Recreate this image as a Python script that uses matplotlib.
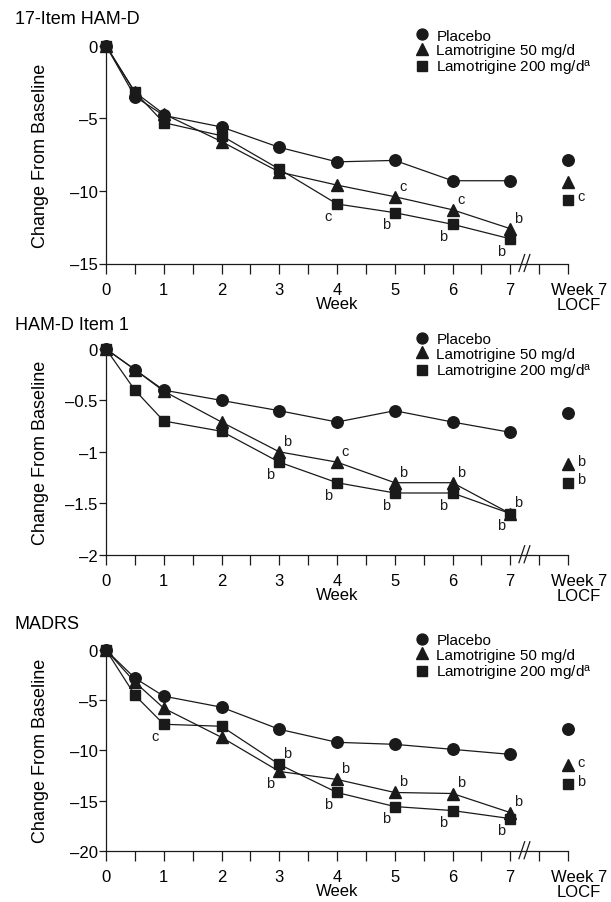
import matplotlib
matplotlib.use("Agg")
import matplotlib.pyplot as plt
import matplotlib.transforms as mtransforms
from matplotlib.lines import Line2D

plt.rcParams['font.family'] = ['Liberation Sans', 'DejaVu Sans']
plt.rcParams['mathtext.fontset'] = 'custom'
plt.rcParams['mathtext.rm'] = 'Liberation Sans'
plt.rcParams['mathtext.it'] = 'Liberation Sans'

# ---------------- data ----------------
weeks = [0, 0.5, 1, 2, 3, 4, 5, 6, 7]
locf_x = 8
xtick_pos = [0, 1, 2, 3, 4, 5, 6, 7, 8]
xtick_labels = ['0', '1', '2', '3', '4', '5', '6', '7', 'Week 7\nLOCF']
series_names = ['Placebo', 'Lamotrigine 50 mg/d', 'Lamotrigine 200 mg/d$^{\\mathrm{a}}$']

titles = ['17-Item HAM-D', 'HAM-D Item 1', 'MADRS']

# Panel 1: 17-Item HAM-D
placebo_1 = [0, -3.5, -4.8, -5.6, -7.0, -8.0, -7.9, -9.3, -9.3]
lam50_1 = [0, -3.2, -4.7, -6.6, -8.7, -9.6, -10.4, -11.3, -12.6]
lam200_1 = [0, -3.2, -5.3, -6.2, -8.5, -10.9, -11.5, -12.3, -13.3]
locf_1 = [-7.9, -9.4, -10.6]

# Panel 2: HAM-D Item 1
placebo_2 = [0, -0.2, -0.4, -0.5, -0.6, -0.71, -0.6, -0.71, -0.81]
lam50_2 = [0, -0.2, -0.41, -0.71, -1.0, -1.1, -1.3, -1.3, -1.6]
lam200_2 = [0, -0.4, -0.7, -0.8, -1.1, -1.3, -1.4, -1.4, -1.6]
locf_2 = [-0.62, -1.12, -1.3]

# Panel 3: MADRS
placebo_3 = [0, -2.8, -4.6, -5.7, -7.9, -9.2, -9.4, -9.9, -10.4]
lam50_3 = [0, -3.2, -5.8, -8.7, -12.1, -12.9, -14.2, -14.3, -16.2]
lam200_3 = [0, -4.5, -7.4, -7.6, -11.4, -14.2, -15.6, -16.0, -16.8]
locf_3 = [-7.9, -11.5, -13.4]

yticks_1 = [0, -5, -10, -15]
yticks_2 = [0, -0.5, -1, -1.5, -2]
yticks_3 = [0, -5, -10, -15, -20]
ylims = [(-15, 0), (-2, 0), (-20, 0)]

# significance letters: (series index, x, letter, placement)
notes_1 = [(1, 5, 'c', 'ur'), (1, 6, 'c', 'ur'), (1, 7, 'b', 'ur'),
           (2, 4, 'c', 'll'), (2, 5, 'b', 'll'), (2, 6, 'b', 'll'), (2, 7, 'b', 'll'),
           (2, 'LOCF', 'c', 'r')]
notes_2 = [(1, 3, 'b', 'ur'), (1, 4, 'c', 'ur'), (1, 5, 'b', 'ur'), (1, 6, 'b', 'ur'), (1, 7, 'b', 'ur'),
           (2, 3, 'b', 'll'), (2, 4, 'b', 'll'), (2, 5, 'b', 'll'), (2, 6, 'b', 'll'), (2, 7, 'b', 'll'),
           (1, 'LOCF', 'b', 'r'), (2, 'LOCF', 'b', 'r')]
notes_3 = [(2, 1, 'c', 'll'), (2, 3, 'b', 'ur'), (1, 3, 'b', 'll'),
           (1, 4, 'b', 'ur'), (1, 5, 'b', 'ur'), (1, 6, 'b', 'ur'), (1, 7, 'b', 'ur'),
           (2, 4, 'b', 'll'), (2, 5, 'b', 'll'), (2, 6, 'b', 'll'), (2, 7, 'b', 'll'),
           (1, 'LOCF', 'c', 'r'), (2, 'LOCF', 'b', 'r')]

panels = [
    (titles[0], [placebo_1, lam50_1, lam200_1], locf_1, yticks_1, ylims[0], notes_1),
    (titles[1], [placebo_2, lam50_2, lam200_2], locf_2, yticks_2, ylims[1], notes_2),
    (titles[2], [placebo_3, lam50_3, lam200_3], locf_3, yticks_3, ylims[2], notes_3),
]

# ---------------- layout / style ----------------
W, H = 611, 903
fig = plt.figure(figsize=(W / 100, H / 100), dpi=100)

left_px, right_px = 106, 568
# (top px for y=0, bottom px for y=min)
panel_px = [(46.7, 264.5), (350.0, 555.7), (651.0, 851.7)]
title_y_px = [20, 325, 625]

markers = ['o', '^', 's']
msizes = [8.3, 8.6, 7.4]
offsets = {'ur': (6.0, 8.0), 'll': (-6.5, -8.5), 'r': (9.5, 2.5)}
ink = '#1a1a1a'

for i, (title, series, locf, yt, ylim, notes) in enumerate(panels):
    top, bot = panel_px[i]
    hpx = bot - top
    ax = fig.add_axes([left_px / W, 1 - bot / H, (right_px - left_px) / W, hpx / H])
    ax.set_xlim(0, 8)
    ax.set_ylim(*ylim)
    for s, vals in enumerate(series):
        ax.plot(weeks, vals, color=ink, lw=0.9, marker=markers[s], ms=msizes[s],
                mfc=ink, mec=ink, clip_on=False, zorder=3 + s)
        ax.plot([locf_x], [locf[s]], ls='none', marker=markers[s], ms=msizes[s],
                mfc=ink, mec=ink, clip_on=False, zorder=3 + s)
    for s, xv, letter, pos in notes:
        if xv == 'LOCF':
            px, py = locf_x, locf[s]
        else:
            px, py = xv, series[s][weeks.index(xv)]
        ax.annotate(letter, (px, py), xytext=offsets[pos], textcoords='offset points',
                    ha='center', va='center', fontsize=10.5, color=ink)

    for sp in ['top', 'right']:
        ax.spines[sp].set_visible(False)
    for sp in ['left', 'bottom']:
        ax.spines[sp].set_linewidth(0.9)
        ax.spines[sp].set_color(ink)

    ax.set_yticks(yt)
    ax.set_yticklabels([('%g' % v).replace('-', '\u2013') for v in yt])
    ax.set_xticks(xtick_pos)
    ax.set_xticklabels(xtick_labels)
    ax.set_xticks([k + 0.5 for k in range(8)], minor=True)
    ax.tick_params(axis='x', which='both', direction='out', length=7, width=0.9,
                   color=ink, labelsize=12, pad=6.5)
    ax.tick_params(axis='y', direction='out', length=5, width=0.9, color=ink,
                   labelsize=12, pad=1)
    lab = ax.get_xticklabels()[-1]
    lab.set_transform(lab.get_transform() + mtransforms.ScaledTranslation(11 / 100, 0, fig.dpi_scale_trans))
    lab.set_linespacing(0.95)

    ax.set_xlabel('Week', fontsize=12, va='center')
    ax.xaxis.set_label_coords(0.5, -40 / hpx)

    # axis break marks
    trans = ax.get_xaxis_transform()
    for dx in (7.2, 7.29):
        ax.plot([dx - 0.05, dx + 0.05], [-8 / hpx, 9 / hpx], transform=trans, color=ink,
                lw=0.9, clip_on=False)

    fig.text(15 / W, 1 - title_y_px[i] / H, title, fontsize=13, ha='left', va='center')
    fig.text(41 / W, 1 - (top + bot) / 2 / H, 'Change From Baseline', rotation=90,
             fontsize=13, ha='center', va='center')

    handles = [Line2D([], [], ls='none', marker=markers[s], ms=msizes[s] * 0.95,
                      mfc=ink, mec=ink) for s in range(3)]
    fig.legend(handles, series_names, loc='upper left',
               bbox_to_anchor=(415 / W, 1 - (top - 17) / H), bbox_transform=fig.transFigure,
               frameon=False, fontsize=11, handlelength=0.95, handletextpad=0.45,
               labelspacing=0.05, borderpad=0, borderaxespad=0)

fig.savefig('out.png', dpi=100)
